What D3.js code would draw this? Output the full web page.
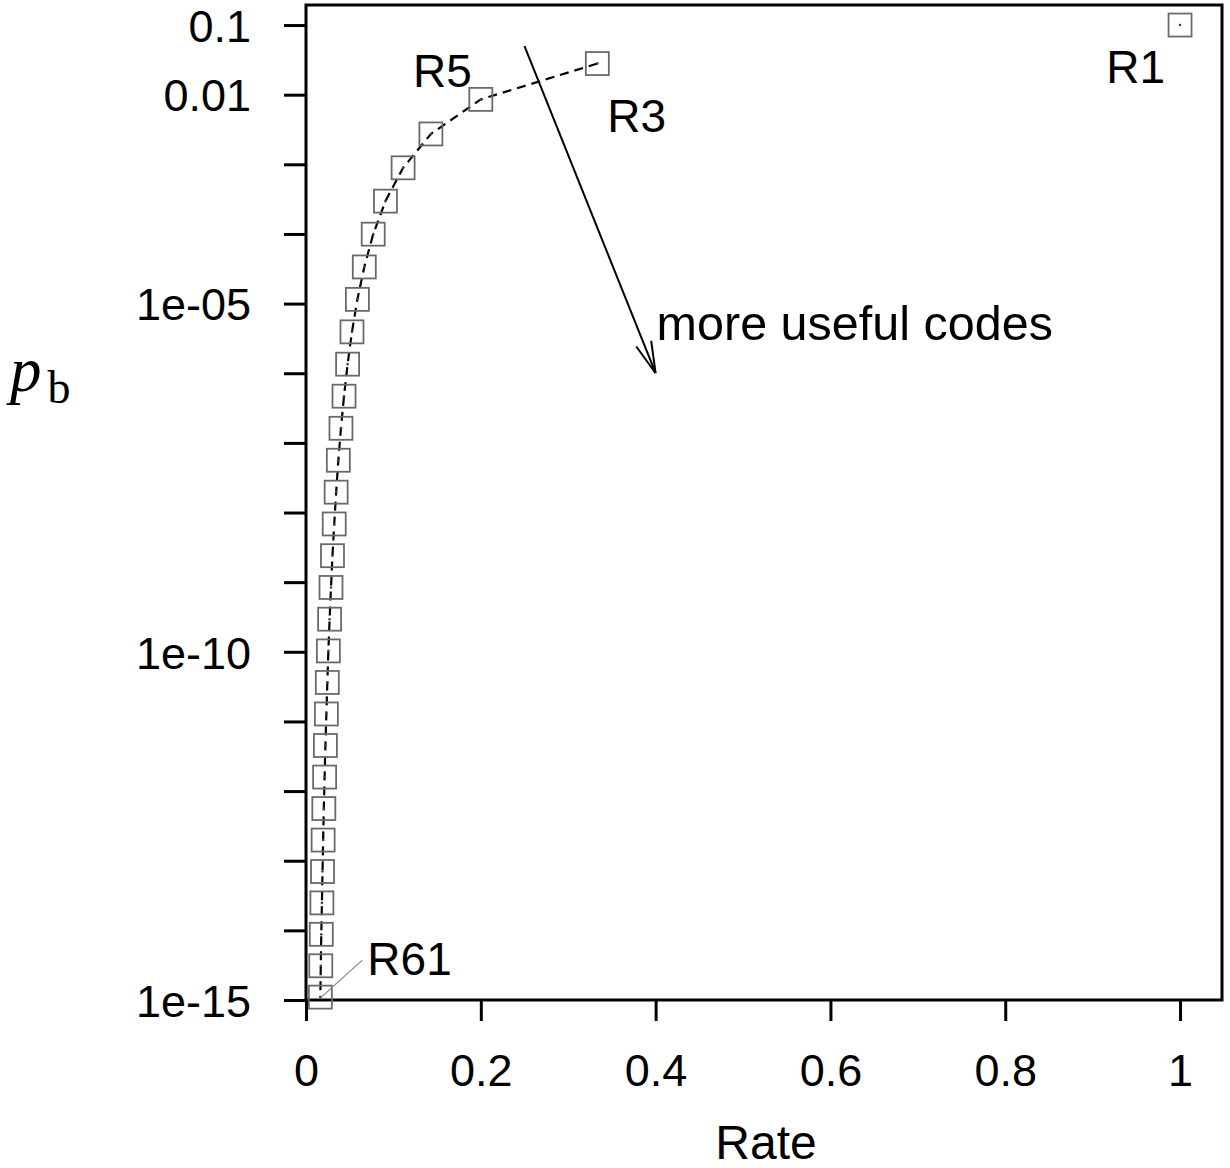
<!DOCTYPE html>
<html>
<head>
<meta charset="UTF-8">
<title>Repetition codes: pb vs rate</title>
<script src="https://d3js.org/d3.v7.min.js"></script>
<style>
  body { margin: 0; background: #fff; }
  text { font-family: "Liberation Sans", Arial, sans-serif; fill: #000; }
  .tick text { font-size: 45px; }
</style>
</head>
<body>
<svg id="chart" width="1230" height="1168"></svg>
<script>
// repetition codes R1, R3, ... R61
const codes = ["R1","R3","R5","R7","R9","R11","R13","R15","R17","R19","R21","R23","R25","R27","R29","R31",
               "R33","R35","R37","R39","R41","R43","R45","R47","R49","R51","R53","R55","R57","R59","R61"];
const rates = [1, 0.3333, 0.2, 0.1429, 0.1111, 0.0909, 0.0769, 0.0667, 0.0588, 0.0526, 0.0476, 0.0435,
               0.04, 0.037, 0.0345, 0.0323, 0.0303, 0.0286, 0.027, 0.0256, 0.0244, 0.0233, 0.0222,
               0.0213, 0.0204, 0.0196, 0.0189, 0.0182, 0.0175, 0.0169, 0.0164];
const pb = [0.1, 0.028, 8.56e-3, 2.73e-3, 8.91e-4, 2.96e-4, 9.93e-5, 3.36e-5, 1.15e-5, 3.93e-6, 1.35e-6,
            4.68e-7, 1.62e-7, 5.63e-8, 1.96e-8, 6.85e-9, 2.40e-9, 8.39e-10, 2.94e-10, 1.03e-10, 3.63e-11,
            1.28e-11, 4.51e-12, 1.59e-12, 5.61e-13, 1.98e-13, 7.00e-14, 2.48e-14, 8.77e-15, 3.10e-15, 1.10e-15];

const xTicks = [0, 0.2, 0.4, 0.6, 0.8, 1];
const yTicks = [1e-1,1e-2,1e-3,1e-4,1e-5,1e-6,1e-7,1e-8,1e-9,1e-10,1e-11,1e-12,1e-13,1e-14,1e-15];
const yTickLabels = {"0.1": "0.1", "0.01": "0.01", "0.00001": "1e-05", "1e-10": "1e-10", "1e-15": "1e-15"};

const data = codes.map((c, i) => ({code: c, rate: rates[i], pb: pb[i]}));

const plotL = 306, plotR = 1222, plotT = 5, plotB = 1000;

const svg = d3.select("#chart");

const x = d3.scaleLinear().domain([0, 1.048]).range([plotL, plotR]);
const y = d3.scaleLog().domain([1e-15, 0.194]).range([plotB, plotT]);

// axes
const xAxis = d3.axisBottom(x).tickValues(xTicks).tickSize(21).tickPadding(33)
    .tickFormat(d => d === 0 ? "0" : d3.format("~g")(d));
const gx = svg.append("g").attr("transform", `translate(0,${plotB})`).call(xAxis);

const yAxis = d3.axisLeft(y).tickValues(yTicks).tickSize(22).tickPadding(33)
    .tickFormat(d => yTickLabels[String(d)] || "");
const gy = svg.append("g").attr("transform", `translate(${plotL},0)`).call(yAxis);

[gx, gy].forEach(g => {
  g.select(".domain").remove();
  g.selectAll(".tick line").attr("stroke", "#000").attr("stroke-width", 3);
  g.selectAll(".tick text").attr("fill", "#000");
});
// keep the top label inside the page
gy.selectAll(".tick text").attr("dy", "0.36em");

// frame
svg.append("rect")
  .attr("x", plotL).attr("y", plotT)
  .attr("width", plotR - plotL).attr("height", plotB - plotT)
  .attr("fill", "none").attr("stroke", "#000").attr("stroke-width", 3);

// dashed curve through R3 ... R61
const line = d3.line().x(d => x(d.rate)).y(d => y(d.pb));
svg.append("path")
  .datum(data.slice(1))
  .attr("d", line)
  .attr("fill", "none")
  .attr("stroke", "#000")
  .attr("stroke-width", 2.2)
  .attr("stroke-dasharray", "9,6");

// square markers
const sq = 23;
const pts = svg.append("g").selectAll("g").data(data).join("g")
  .attr("transform", d => `translate(${x(d.rate)},${y(d.pb)})`);
pts.append("rect")
  .attr("x", -sq / 2).attr("y", -sq / 2).attr("width", sq).attr("height", sq)
  .attr("fill", "none").attr("stroke", "#6a6a6a").attr("stroke-width", 1.8);
pts.append("circle").attr("r", 1.3).attr("fill", "#444");

// code labels
const labels = [
  {code: "R1", dx: -15, dy: 58, anchor: "end"},
  {code: "R3", dx: 10, dy: 68, anchor: "start"},
  {code: "R5", dx: -9, dy: -12, anchor: "end"},
  {code: "R61", dx: 47, dy: -22, anchor: "start"}
];
labels.forEach(l => {
  const d = data.find(e => e.code === l.code);
  svg.append("text")
    .attr("x", x(d.rate) + l.dx).attr("y", y(d.pb) + l.dy)
    .attr("text-anchor", l.anchor)
    .attr("font-size", 46)
    .text(l.code);
});

// leader line to R61
const r61 = data[data.length - 1];
svg.append("line")
  .attr("x1", x(r61.rate) + 1).attr("y1", y(r61.pb))
  .attr("x2", x(r61.rate) + 42).attr("y2", y(r61.pb) - 37)
  .attr("stroke", "#888").attr("stroke-width", 1.3);

// arrow "more useful codes"
svg.append("defs").append("marker")
  .attr("id", "arrow")
  .attr("viewBox", "0 0 32 20")
  .attr("refX", 32).attr("refY", 10)
  .attr("markerWidth", 32).attr("markerHeight", 20)
  .attr("markerUnits", "userSpaceOnUse")
  .attr("orient", "auto")
  .append("path")
  .attr("d", "M0,2 L32,10 L0,18")
  .attr("fill", "none").attr("stroke", "#000").attr("stroke-width", 2);

svg.append("line")
  .attr("x1", x(0.25)).attr("y1", y(0.05))
  .attr("x2", x(0.4)).attr("y2", y(1e-6))
  .attr("stroke", "#000").attr("stroke-width", 2)
  .attr("marker-end", "url(#arrow)");

svg.append("text")
  .attr("x", x(0.4) + 1).attr("y", y(3e-6))
  .attr("font-size", 48.5)
  .text("more useful codes");

// axis titles
svg.append("text")
  .attr("x", 766).attr("y", 1159)
  .attr("text-anchor", "middle")
  .attr("font-size", 48)
  .text("Rate");

const yl = svg.append("text")
  .attr("x", 10).attr("y", 391)
  .style("font-family", "'Liberation Serif', 'DejaVu Serif', serif");
yl.append("tspan").attr("font-style", "italic").attr("font-size", 63).text("p");
yl.append("tspan").attr("font-size", 46).attr("dx", 6).attr("dy", 12).text("b");
</script>
</body>
</html>
